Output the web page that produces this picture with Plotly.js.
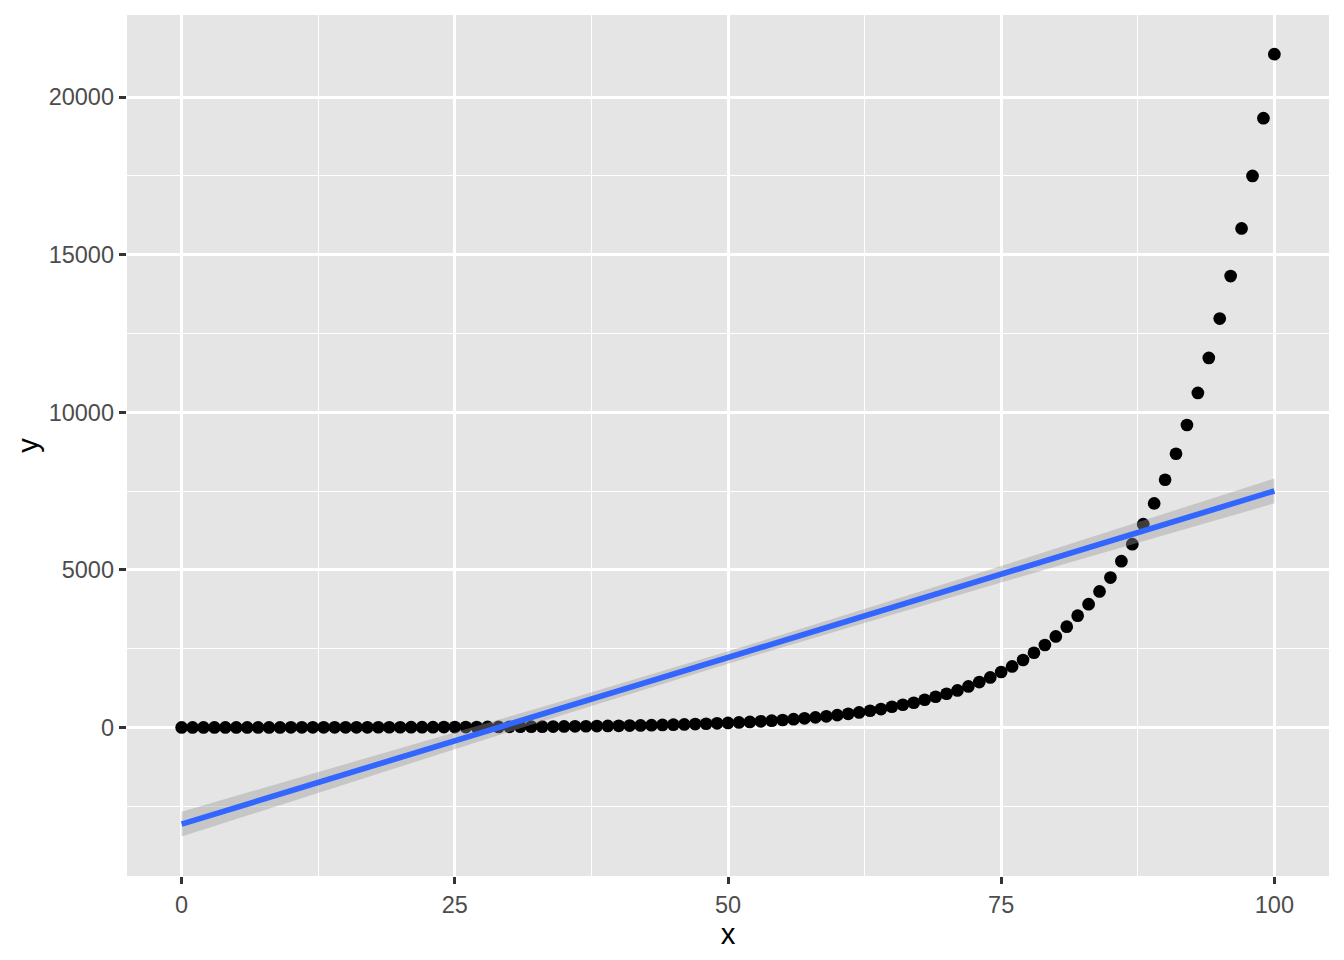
<!DOCTYPE html>
<html>
<head>
<meta charset="utf-8">
<script src="https://cdn.plot.ly/plotly-3.0.1.min.js"></script>
<style>html,body{margin:0;padding:0;background:#fff;}#chart{width:1344px;height:960px;}</style>
</head>
<body>
<div id="chart"></div>
<script>
// Observed points (x = 0..100)
var xs = [];
for (var i = 0; i <= 100; i++) xs.push(i);
var ys = [1,1,1,1,1,2,2,2,2,2,3,3,3,4,4,4,5,5,6,6,
  7,8,9,10,11,12,13,14,16,18,19,22,24,26,29,32,35,39,43,48,
  53,59,65,71,79,87,96,107,118,130,144,159,176,194,215,237,262,290,320,354,
  391,432,476,530,584,657,721,784,879,975,1070,1175,1302,1441,1587,1759,1937,2140,2371,2616,
  2889,3197,3546,3910,4315,4756,5275,5815,6451,7107,7859,8685,9597,10613,11725,12974,14321,15834,17499,19330,
  21363];

// Linear fit and its confidence band, read at x = 0, 5, ..., 100
var fitX = [0,5,10,15,20,25,30,35,40,45,50,55,60,65,70,75,80,85,90,95,100];
var fitY = [-3067,-2538,-2010,-1481,-953,-424,105,633,1162,1690,2219,2748,3276,3805,4333,4862,5391,5919,6448,6976,7505];
var ciLow = [-3462,-2904,-2348,-1792,-1239,-686,-136,409,951,1488,2020,2546,3065,3581,4092,4600,5105,5608,6110,6610,7110];
var ciHigh = [-2672,-2172,-1672,-1170,-667,-162,346,857,1373,1892,2418,2950,3487,4029,4574,5124,5677,6230,6786,7342,7900];

var xTicks = [0,25,50,75,100];
var xTickText = ['0','25','50','75','100'];
var xMinor = [12.5,37.5,62.5,87.5];
var yTicks = [0,5000,10000,15000,20000];
var yTickText = ['0','5000','10000','15000','20000'];
var yMinor = [-2500,2500,7500,12500,17500];

var traces = [
  {x: xs, y: ys, type: 'scatter', mode: 'markers',
   marker: {color: '#000000', size: 12.7}, hoverinfo: 'x+y', showlegend: false},
  {x: fitX, y: ciLow, type: 'scatter', mode: 'lines', line: {width: 0, color: 'rgba(0,0,0,0)'},
   hoverinfo: 'skip', showlegend: false},
  {x: fitX, y: ciHigh, type: 'scatter', mode: 'lines', line: {width: 0, color: 'rgba(0,0,0,0)'},
   fill: 'tonexty', fillcolor: 'rgba(153,153,153,0.4)', hoverinfo: 'skip', showlegend: false},
  {x: fitX, y: fitY, type: 'scatter', mode: 'lines', line: {color: '#3366FF', width: 5.7},
   hoverinfo: 'x+y', showlegend: false}
];

var tickFont = {family: 'Liberation Sans, Arial, sans-serif', size: 23.5, color: '#4D4D4D'};
var titleFont = {family: 'Liberation Sans, Arial, sans-serif', size: 29.3, color: '#000000'};

var layout = {
  width: 1344, height: 960,
  paper_bgcolor: '#FFFFFF', plot_bgcolor: '#E5E5E5',
  margin: {l: 127, r: 15, t: 15, b: 84, pad: 0},
  showlegend: false,
  xaxis: {
    range: [-5, 105], tickmode: 'array', tickvals: xTicks, ticktext: xTickText,
    ticks: 'outside', ticklen: 7.3, tickwidth: 2.8, tickcolor: '#333333',
    showgrid: true, gridcolor: '#FFFFFF', gridwidth: 2.8, zeroline: false, showline: false,
    tickfont: tickFont,
    minor: {tickmode: 'array', tickvals: xMinor, showgrid: true, gridcolor: '#FFFFFF', gridwidth: 1.4, ticks: ''},
    title: {text: 'x', font: titleFont, standoff: 1}
  },
  yaxis: {
    range: [-4713, 22605], tickmode: 'array', tickvals: yTicks, ticktext: yTickText,
    ticks: 'outside', ticklen: 7.3, tickwidth: 2.8, tickcolor: '#333333',
    showgrid: true, gridcolor: '#FFFFFF', gridwidth: 2.8, zeroline: false, showline: false,
    tickfont: tickFont,
    minor: {tickmode: 'array', tickvals: yMinor, showgrid: true, gridcolor: '#FFFFFF', gridwidth: 1.4, ticks: ''},
    title: {text: 'y', font: titleFont, standoff: 1}
  }
};

Plotly.newPlot('chart', traces, layout, {displayModeBar: false, responsive: false});
</script>
</body>
</html>
